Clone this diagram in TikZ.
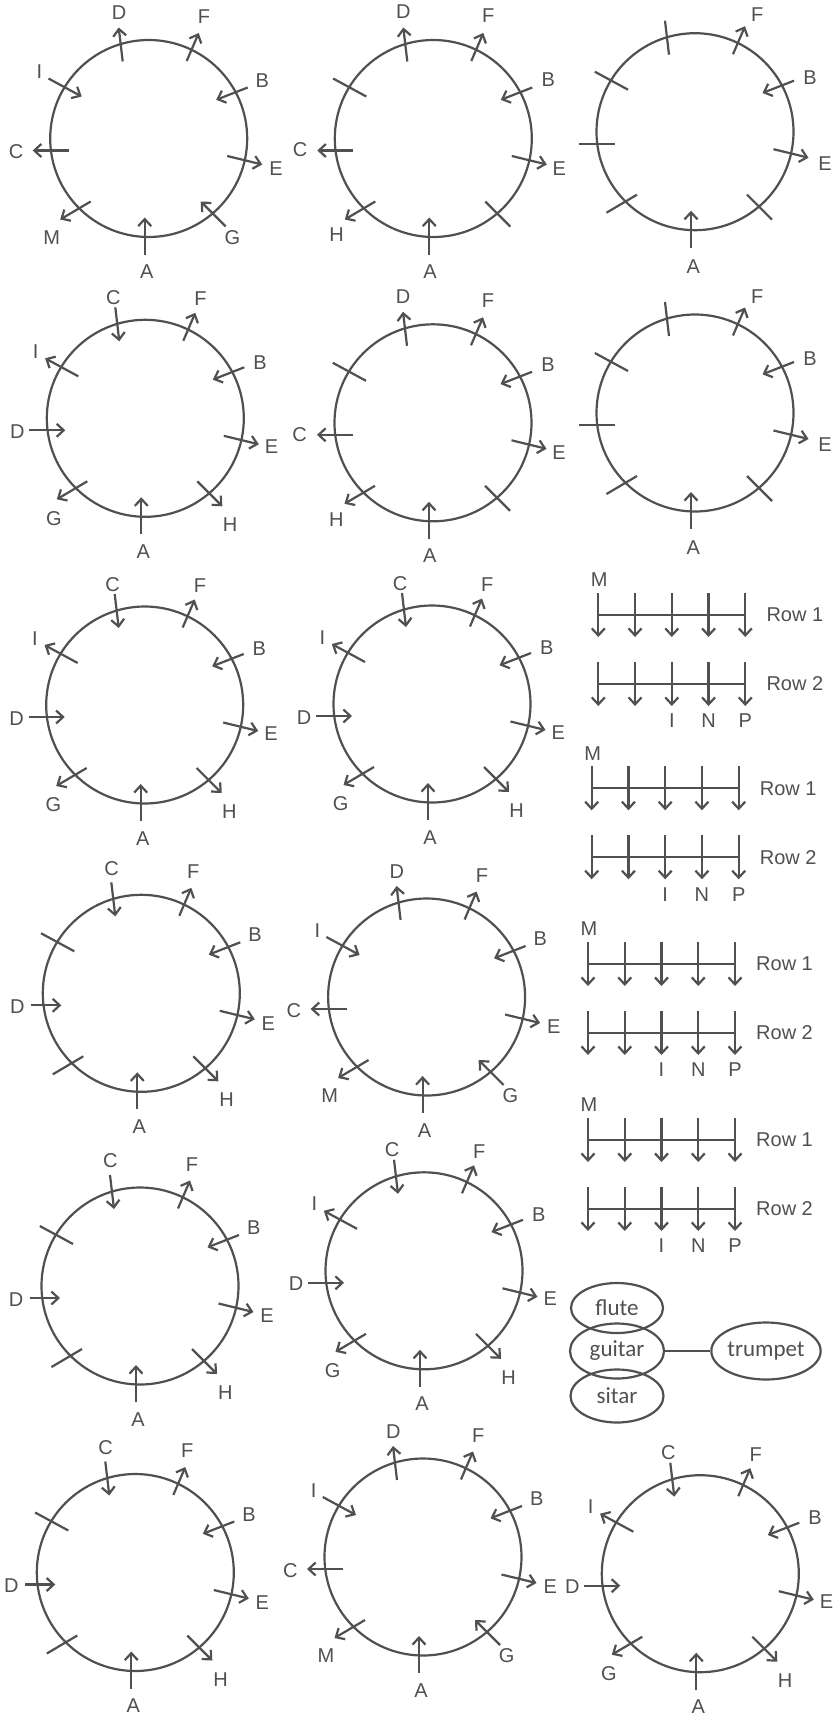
\documentclass[tikz,border=0pt]{standalone}
\usepackage{fontspec}
\setmainfont{Liberation Sans}
\newfontfamily\calib{Carlito}
\usetikzlibrary{arrows.meta,shapes.geometric}
\definecolor{ink}{RGB}{80,80,80}
% seat geometry: inner (i) and outer (o) end points, relative to the centre
\newcommand\Seats{%
 \coordinate (i1) at (-26,77);   \coordinate (o1) at (-30,111);
 \coordinate (i2) at (38,77.5);  \coordinate (o2) at (50,105.5);
 \coordinate (i3) at (67.5,38.7);\coordinate (o3) at (99,51);
 \coordinate (i4) at (78.5,-17.5);\coordinate (o4) at (113.5,-26);
 \coordinate (i5) at (52,-63);   \coordinate (o5) at (77,-88);
 \coordinate (i6) at (-4,-79);   \coordinate (o6) at (-4,-116);
 \coordinate (i7) at (-58,-63);  \coordinate (o7) at (-88.5,-81);
 \coordinate (i8) at (-80,-12);  \coordinate (o8) at (-116,-12);
 \coordinate (i9) at (-67,42);   \coordinate (o9) at (-100.2,60);
 \coordinate (s8) at (-110,-12);}
\newcommand\Pout[3]{\draw[arr] (i#1) -- (o#1); \node[lab] (lb#1) at #3 {#2};}
\newcommand\Pin[3]{\draw[arr] (o#1) -- (i#1); \node[lab] (lb#1) at #3 {#2};}
\newcommand\Ptick[1]{\draw[ln] (i#1) -- (o#1);}
% seat types
\newcommand\TA{\Pout{1}{D}{(-29.7,125.7)}\Pout{2}{F}{(55.3,121.7)}\Pin{3}{B}{(113.7,58.3)}%
 \Pout{4}{E}{(127.3,-30)}\Pin{5}{G}{(83.7,-99)}\Pin{6}{A}{(-2,-133.3)}%
 \Pout{7}{M}{(-97,-99)}\Pout{8}{C}{(-132.7,-13.3)}\Pin{9}{I}{(-109.3,66.7)}}
\newcommand\TB{\Pout{1}{D}{(-30,126.5)}\Pout{2}{F}{(55,122.5)}\Pin{3}{B}{(115,58.5)}%
 \Pout{4}{E}{(126,-29.8)}\Ptick{5}\Pin{6}{A}{(-3.3,-133.2)}%
 \Pout{7}{H}{(-96.7,-96.5)}\Pout{8}{C}{(-133.3,-11.5)}\Ptick{9}}
\newcommand\TC{\Ptick{1}\Pout{2}{F}{(62.3,116.7)}\Pin{3}{B}{(115,54.3)}%
 \Pout{4}{E}{(130,-31.7)}\Ptick{5}\Pin{6}{A}{(-1.7,-135)}%
 \Ptick{7}\Ptick{8}\Ptick{9}}
\newcommand\TD{\Pin{1}{C}{(-32,120.7)}\Pout{2}{F}{(55.3,119.3)}\Pin{3}{B}{(114.7,56)}%
 \Pout{4}{E}{(126.3,-28.3)}\Pout{5}{H}{(84.7,-106.7)}\Pin{6}{A}{(-2,-133.3)}%
 \Pout{7}{G}{(-91.3,-100)}\Pin{8}{D}{(-128,-13.3)}\Pout{9}{I}{(-109.7,66.7)}}
\newcommand\TE{\Pin{1}{C}{(-29.7,125)}\Pout{2}{F}{(52,121.7)}\Pin{3}{B}{(113.7,58.3)}%
 \Pout{4}{E}{(127,-30)}\Pout{5}{H}{(85.3,-106.7)}\Pin{6}{A}{(-2,-133.3)}%
 \Ptick{7}\draw[arr] (s8) -- (i8); \node[lab] (lb8) at (-124,-13.3) {D};\Ptick{9}}
\newcommand\Circ[3]{\begin{scope}[shift={(#1,-#2)}]\draw[ln] (0,0) circle[radius=98.5];\Seats#3\end{scope}}
\newcommand\RowDiag[2]{%
 \begin{scope}[shift={(#1,-#2)}]
  \node[lab] (m) at (1,0) {M};
  \foreach \yy/\nm in {35/Row 1,104/Row 2}{
   \draw[ln] (0,-\yy) -- (147,-\yy);
   \foreach \k in {0,...,4}{\draw[arr] (\k*36.75,-\yy+22) -- (\k*36.75,-\yy-22);}
   \node[lab,anchor=west] at (168,-\yy) {\nm};}
  \node[lab] (li) at (2*36.75,-141) {I};
  \node[lab] (ln) at (3*36.75,-141) {N};
  \node[lab] (lp) at (4*36.75,-141) {P};
 \end{scope}}
\begin{document}
\begin{tikzpicture}[x=1pt,y=1pt,
  ln/.style={draw=ink,line width=2.2pt},
  arr/.style={ln,-{Straight Barb[length=7pt,width=13pt]}},
  lab/.style={text=ink,font=\fontsize{20}{20}\selectfont,inner sep=0pt},
  ell/.style={draw=ink,line width=2.2pt,ellipse,inner sep=0pt,text=ink,font=\calib\fontsize{23}{23}\selectfont}]
\fill[white] (0,0) rectangle (840,-1724);
\useasboundingbox (0,0) rectangle (840,-1724);
% row 1
\Circ{148.7}{138.5}{\TA}
\Circ{433.3}{138.5}{\TB}
\Circ{695}{131.7}{\TC}
% row 2
\Circ{145.3}{418.3}{\TD}
\Circ{433}{422.8}{\TB}
\Circ{695}{413}{\TC}
% row 3
\Circ{144.7}{705}{\TD}
\Circ{432}{704}{\TD}
% row 4
\Circ{141.3}{993.3}{\TE}
\Circ{426.6}{997}{\TA}
% row 5
\Circ{140}{1286}{\TE}
\Circ{424}{1270.8}{\TD}
% row 6
\Circ{135.3}{1572.5}{\TE}
\Circ{423}{1557}{\TA}
\Circ{700.3}{1573.7}{\TD}
% row diagrams
\RowDiag{598.3}{580}
\RowDiag{591.7}{753.3}
\RowDiag{588}{929}
\RowDiag{588}{1105}
% instruments
\node[ell,minimum width=92pt,minimum height=50pt] (flute) at (617,-1308) {flute};
\node[ell,minimum width=94pt,minimum height=55pt] (guitar) at (617,-1351) {guitar};
\node[ell,minimum width=93pt,minimum height=53pt] (sitar) at (617,-1396) {sitar};
\node[ell,minimum width=104pt,minimum height=57pt] (trumpet) at (766,-1351) {trumpet};
\draw[ln] (guitar) -- (trumpet);
\end{tikzpicture}
\end{document}
